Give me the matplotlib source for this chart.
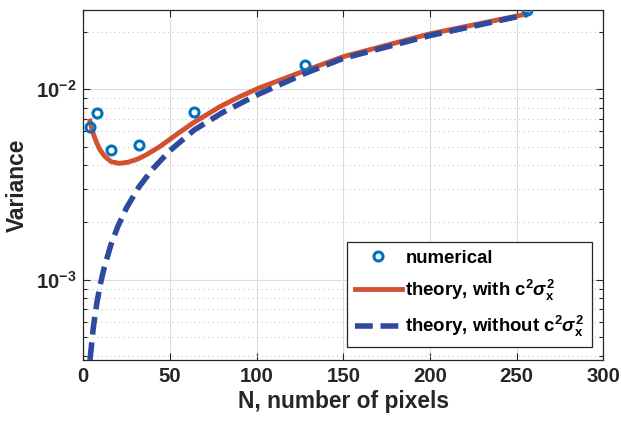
import matplotlib
matplotlib.use("Agg")
import matplotlib.pyplot as plt
from matplotlib.ticker import FixedLocator, NullFormatter, LogLocator

plt.rcParams['font.family'] = ['Liberation Sans', 'DejaVu Sans']
plt.rcParams['font.weight'] = 'bold'
plt.rcParams['mathtext.fontset'] = 'custom'
plt.rcParams['mathtext.rm'] = 'Liberation Sans:bold'
plt.rcParams['mathtext.bf'] = 'Liberation Sans:bold'
plt.rcParams['mathtext.it'] = 'Liberation Sans:italic'

# numerical data
N_num = [4, 8, 16, 32, 64, 128, 256]
var_num = [0.00635, 0.0075, 0.0048, 0.0051, 0.0076, 0.0134, 0.0259]

# theory, with c^2 sigma_x^2
N_with = [4, 5, 6.6, 8, 9.5, 12.4, 16.3, 21, 26, 31, 36, 44, 50, 56, 64, 79, 90, 101, 128, 150, 200, 256]
var_with = [0.0068, 0.0062, 0.0056, 0.0052, 0.00485, 0.00445, 0.00416, 0.00408, 0.00414, 0.00428,
            0.0045, 0.00498, 0.00545, 0.00597, 0.0067, 0.0081, 0.0091, 0.0101, 0.0125, 0.0148,
            0.0195, 0.0248]

# theory, without c^2 sigma_x^2
N_without = [4, 6, 8, 10, 12, 16, 20, 25, 32, 40, 50, 64, 80, 100, 128, 150, 200, 256]
var_without = [0.00038, 0.00057, 0.00076, 0.00095, 0.00114, 0.00152, 0.0019, 0.00238, 0.00305,
               0.0038, 0.00475, 0.0061, 0.0075, 0.0093, 0.0121, 0.0145, 0.0191, 0.0246]

x_ticks = [0, 50, 100, 150, 200, 250, 300]
y_ticks = [1e-3, 1e-2]
y_tick_labels = [r'$\mathbf{10^{-3}}$', r'$\mathbf{10^{-2}}$']

fig = plt.figure(figsize=(6.21, 4.23), dpi=100)
ax = fig.add_axes([0.1337, 0.1489, 0.8381, 0.8275])

txt = '#262626'
ax.plot(N_num, var_num, linestyle='none', marker='o', markersize=6.5,
        markerfacecolor='none', markeredgecolor='#0072BD', markeredgewidth=2.2,
        label='numerical', zorder=4)
ax.plot(N_with, var_with, color='#D25230', linewidth=3.5,
        label=r'theory, with c$^{\mathbf{2}}\mathit{\sigma}_{\mathbf{x}}^{\mathbf{2}}$', zorder=3)
l3, = ax.plot(N_without, var_without, color='#2E4A9E', linewidth=4,
              label=r'theory, without c$^{\mathbf{2}}\mathit{\sigma}_{\mathbf{x}}^{\mathbf{2}}$', zorder=3)
l3.set_dashes([3.2, 1.4])

ax.set_yscale('log')
ax.set_xlim(0, 300)
ax.set_ylim(3.8e-4, 2.6e-2)
ax.set_xticks(x_ticks)
ax.set_xticklabels([str(v) for v in x_ticks])
ax.yaxis.set_major_locator(FixedLocator(y_ticks))
ax.set_yticklabels(y_tick_labels)
ax.yaxis.set_minor_locator(LogLocator(base=10, subs=range(2, 10)))
ax.yaxis.set_minor_formatter(NullFormatter())

ax.grid(True, which='major', color='#dcdcdc', linewidth=0.8, linestyle='-')
ax.grid(True, which='minor', axis='y', color='#c8c8c8', linewidth=0.8, linestyle=(0, (1, 3)))
ax.set_axisbelow(True)

ax.tick_params(which='both', direction='in', top=True, right=True, colors=txt,
               labelsize=14.7, width=0.8)
ax.tick_params(which='major', length=5, pad=5)
ax.tick_params(which='minor', length=3)
for s in ax.spines.values():
    s.set_color(txt)
    s.set_linewidth(0.9)
for lab in ax.get_xticklabels() + ax.get_yticklabels():
    lab.set_fontweight('bold')

ax.set_xlabel('N, number of pixels', fontsize=16.4, fontweight='bold', color=txt, labelpad=3)
ax.set_ylabel('Variance', fontsize=16.4, fontweight='bold', color=txt, labelpad=5)

leg = ax.legend(loc='lower right', bbox_to_anchor=(0.978, 0.037), borderaxespad=0,
                fancybox=False, framealpha=1, edgecolor='#262626',
                prop={'size': 13.4, 'weight': 'bold'}, handlelength=2.5, handletextpad=0.2,
                labelspacing=0.6, borderpad=0.42)
leg.get_frame().set_linewidth(0.9)

fig.savefig('out.png', dpi=100)
